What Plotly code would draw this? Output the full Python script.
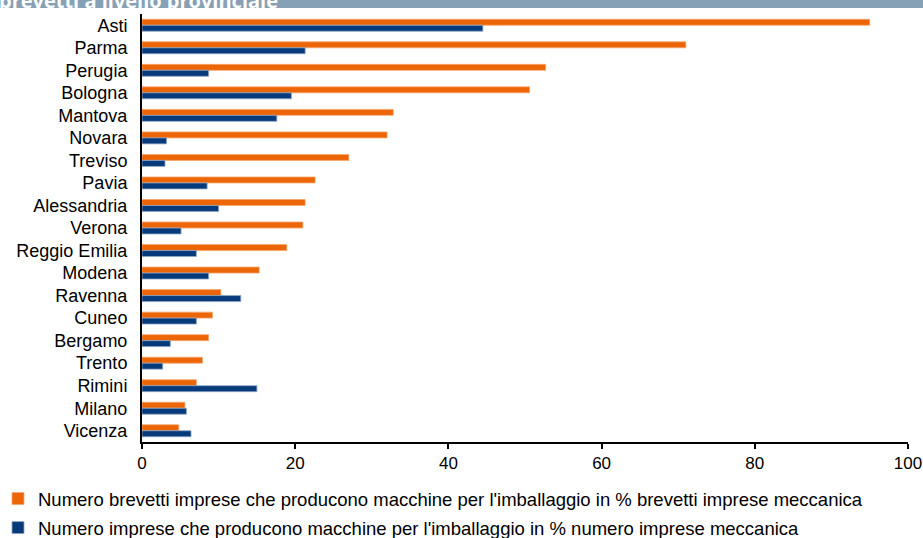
import plotly.graph_objects as go

provinces = ["Asti", "Parma", "Perugia", "Bologna", "Mantova", "Novara", "Treviso", "Pavia",
             "Alessandria", "Verona", "Reggio Emilia", "Modena", "Ravenna", "Cuneo", "Bergamo",
             "Trento", "Rimini", "Milano", "Vicenza"]
brevetti = [95.0, 71.0, 52.7, 50.6, 32.8, 32.0, 27.0, 22.6, 21.3, 21.0, 18.9, 15.3, 10.3, 9.2,
            8.7, 7.9, 7.1, 5.6, 4.8]
imprese = [44.5, 21.3, 8.7, 19.5, 17.6, 3.2, 3.0, 8.5, 10.0, 5.1, 7.1, 8.7, 12.9, 7.1,
           3.7, 2.7, 15.0, 5.8, 6.4]
series_names = [
    "Numero brevetti imprese che producono macchine per l'imballaggio in % brevetti imprese meccanica",
    "Numero imprese che producono macchine per l'imballaggio in % numero imprese meccanica",
]
header = "brevetti a livello provinciale"

ORANGE = "#EC6608"
NAVY = "#063A7A"
FONT = "Liberation Sans, Arial, sans-serif"

W, H = 923, 538
L, R, T, B = 142, 15, 14, 96
PW, PH = W - L - R, H - T - B

fig = go.Figure()
fig.add_trace(go.Bar(y=provinces, x=brevetti, orientation="h", name=series_names[0],
                     marker=dict(color=ORANGE, line=dict(color="#F6A66C", width=0.8)),
                     legendgroup="a"))
fig.add_trace(go.Bar(y=provinces, x=imprese, orientation="h", name=series_names[1],
                     marker=dict(color=NAVY, line=dict(color="#8FA6C6", width=0.8)),
                     legendgroup="b"))

fig.update_layout(
    width=W, height=H,
    margin=dict(l=L, r=R, t=T, b=B, autoexpand=False),
    paper_bgcolor="white", plot_bgcolor="white",
    barmode="group", bargap=0.47, bargroupgap=0,
    font=dict(family=FONT, size=18, color="#000000"),
    showlegend=True,
    legend=dict(orientation="v", x=-144 / PW, xanchor="left", y=-38 / PH, yanchor="top",
                font=dict(family=FONT, size=18.5, color="#000000"),
                traceorder="grouped", tracegroupgap=2,
                bgcolor="rgba(0,0,0,0)", itemwidth=30),
    xaxis=dict(range=[0, 100], dtick=20, showgrid=False, zeroline=False,
               showline=True, linecolor="#000000", linewidth=2,
               ticks="outside", ticklen=5, tickwidth=2, tickcolor="#000000",
               tickfont=dict(family=FONT, size=17, color="#000000")),
    yaxis=dict(autorange="reversed", showgrid=False, zeroline=False,
               showline=True, linecolor="#000000", linewidth=2,
               ticks="", ticklabelstandoff=9,
               tickfont=dict(family=FONT, size=18, color="#000000")),
    shapes=[dict(type="rect", xref="paper", yref="paper",
                 x0=-L / PW, x1=1 + R / PW, y0=1 + (T - 8) / PH, y1=1 + (T + 10) / PH,
                 fillcolor="#86A0B5", line=dict(width=0), layer="above")],
    annotations=[dict(text="<b>" + header + "</b>", xref="paper", yref="paper",
                      x=(-L - 3) / PW, xanchor="left", y=1 + (T - 1) / PH, yanchor="middle",
                      showarrow=False,
                      font=dict(family="Open Sans, sans-serif", size=20, color="white"))],
)

fig.write_html("out.html", config={"displayModeBar": False},
               post_script="document.body.style.margin='0';")
